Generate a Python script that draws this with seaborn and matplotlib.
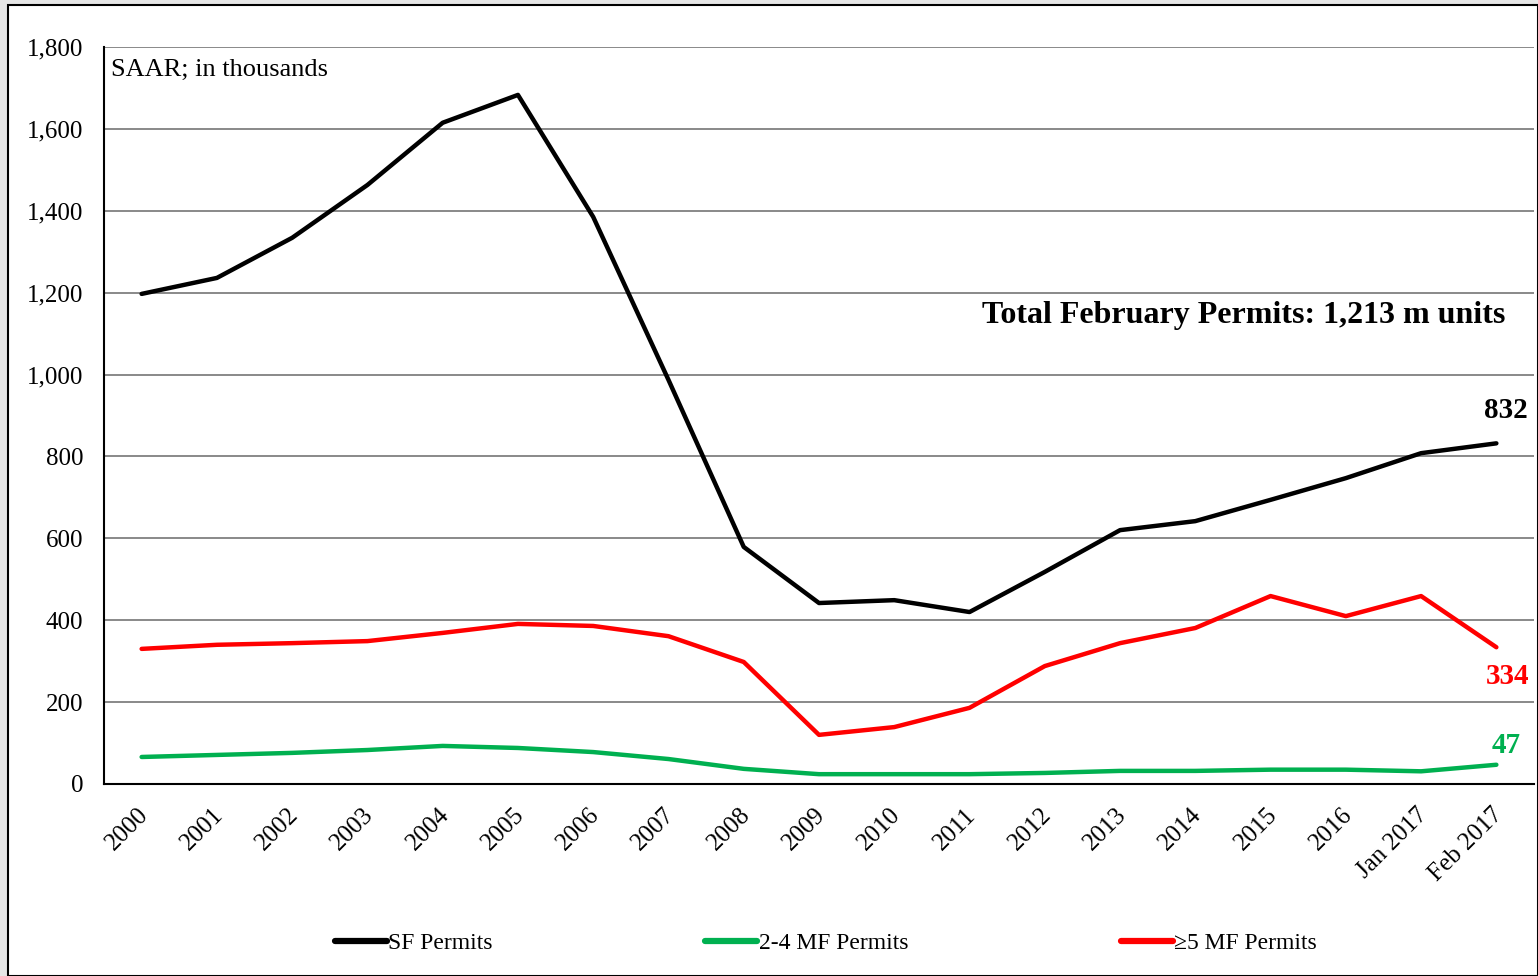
import numpy as np
import matplotlib.pyplot as plt
import matplotlib.transforms as mtransforms
import seaborn as sns
import pandas as pd
from matplotlib.patches import Rectangle

periods = ['2000', '2001', '2002', '2003', '2004', '2005', '2006', '2007', '2008',
           '2009', '2010', '2011', '2012', '2013', '2014', '2015', '2016',
           'Jan 2017', 'Feb 2017']
sf_permits = [1197, 1236, 1334, 1463, 1615, 1683, 1385, 987, 579, 442, 449, 420,
              518, 620, 642, 694, 747, 808, 832]
mf_2to4 = [66, 71, 76, 83, 93, 88, 78, 61, 37, 24, 24, 24, 27, 32, 32, 35, 35, 31, 47]
mf_5plus = [330, 340, 344, 349, 369, 391, 386, 361, 298, 120, 139, 186, 288, 344,
            381, 459, 410, 459, 334]

series_names = ['SF Permits', '2-4 MF Permits', '\u22655 MF Permits']
series_colors = ['black', '#00b050', '#ff0000']

df = pd.DataFrame({'pos': np.arange(len(periods)),
                   series_names[0]: sf_permits,
                   series_names[1]: mf_2to4,
                   series_names[2]: mf_5plus})
long = df.melt(id_vars='pos', var_name='series', value_name='permits')

sns.set_style('white')
plt.rcParams['font.family'] = ['Liberation Serif', 'DejaVu Serif']
plt.rcParams['text.color'] = 'black'
plt.rcParams['xtick.color'] = 'black'
plt.rcParams['ytick.color'] = 'black'

fig = plt.figure(figsize=(15.38, 9.76), dpi=100, facecolor='#e6e6e6')
fig.patches.append(Rectangle((8 / 1538, 0), 1 - 8 / 1538, 1 - 5 / 976,
                             transform=fig.transFigure, facecolor='white',
                             edgecolor='black', linewidth=1.5, zorder=-5))
ax = fig.add_axes([104 / 1538, 1 - 784 / 976, 1430 / 1538, 737 / 976])
ax.set_zorder(2)
ax.set_facecolor('white')

sns.lineplot(data=long, x='pos', y='permits', hue='series', hue_order=series_names,
             palette=series_colors, linewidth=3.2, ax=ax, legend=False)

ax.set_xlim(-0.5, len(periods) - 0.5)
ax.set_ylim(0, 1800)
ax.set_yticks(range(0, 1801, 200))
ax.set_yticklabels([f'{v:,}' for v in range(0, 1801, 200)], fontsize=18)
ax.set_xticks(np.arange(len(periods)))
ax.set_xticklabels(periods, rotation=45, ha='right', va='center',
                   rotation_mode='anchor', fontsize=18)
ax.set_xticks(np.arange(len(periods) + 1) - 0.5, minor=True)
ax.tick_params(axis='x', which='major', length=0, pad=20)
ax.tick_params(axis='x', which='minor', length=7, width=1.5, color='black', direction='out')
ax.tick_params(axis='y', length=7, width=1.5, color='black', direction='out', pad=8)
shift = mtransforms.ScaledTranslation(3 / 100, 0, fig.dpi_scale_trans)
for lbl in ax.get_xticklabels():
    lbl.set_transform(lbl.get_transform() + shift)
ax.grid(axis='y', color='#808080', linewidth=1.3)
ax.set_axisbelow(True)
ax.set_xlabel('')
ax.set_ylabel('')
for side in ['top', 'right']:
    ax.spines[side].set_visible(False)
for side in ['left', 'bottom']:
    ax.spines[side].set_color('black')
    ax.spines[side].set_linewidth(1.5)

ax.text(0.005, 0.969, 'SAAR; in thousands', transform=ax.transAxes, fontsize=19,
        va='center', ha='left')
ax.text(0.98, 0.636, 'Total February Permits: 1,213 m units', transform=ax.transAxes,
        fontsize=23, fontweight='bold', ha='right', va='center')

last = len(periods) - 1
ax.annotate(f'{sf_permits[-1]}', (last, sf_permits[-1]), xytext=(7, 24),
            textcoords='offset points', fontsize=21, fontweight='bold',
            color='black', ha='center', va='center')
ax.annotate(f'{mf_5plus[-1]}', (last, mf_5plus[-1]), xytext=(8, -21),
            textcoords='offset points', fontsize=21, fontweight='bold',
            color='#ff0000', ha='center', va='center')
ax.annotate(f'{mf_2to4[-1]}', (last, mf_2to4[-1]), xytext=(7, 14),
            textcoords='offset points', fontsize=21, fontweight='bold',
            color='#00b050', ha='center', va='center')

handles = [plt.Line2D([], [], color=c, linewidth=4.5, solid_capstyle='round')
           for c in series_colors]
fig.legend(handles, series_names, loc='center', bbox_to_anchor=(0.537, 1 - 943 / 976),
           ncol=3, frameon=False, fontsize=17, handlelength=2.2, handletextpad=0.05,
           columnspacing=9.0, labelcolor='black')

fig.savefig('out.png', dpi=100, facecolor=fig.get_facecolor())
